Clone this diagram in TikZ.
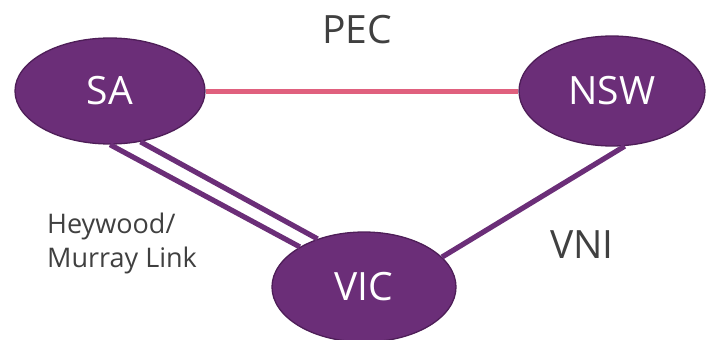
\documentclass[tikz,border=0pt]{standalone}
\usepackage{fontspec}
\setmainfont{Open Sans}
\usetikzlibrary{shapes.geometric}
\definecolor{regfill}{RGB}{107,46,120}
\definecolor{regline}{RGB}{78,30,88}
\definecolor{pecline}{RGB}{224,96,126}
\definecolor{txtgray}{RGB}{64,64,64}
\tikzset{
  region/.style={ellipse, fill=regfill, draw=regline, line width=1.3pt, inner sep=0pt,
    text=white, font=\fontsize{39}{39}\selectfont},
  link/.style={draw=regfill, line width=5.2pt},
  peclink/.style={draw=pecline, line width=5pt},
  biglabel/.style={text=txtgray, font=\fontsize{39}{39}\selectfont, inner sep=0pt},
  smalllabel/.style={text=txtgray, font=\fontsize{27}{34}\selectfont, inner sep=0pt, align=left}
}
\begin{document}
\begin{tikzpicture}[x=1pt,y=-1pt]
\useasboundingbox (0,0) rectangle (718,340);
\node[region, minimum width=190pt, minimum height=106pt] (SA) at (110,91) {SA};
\node[region, minimum width=186pt, minimum height=110pt] (NSW) at (612,91) {NSW};
\node[region, minimum width=184pt, minimum height=110pt] (VIC) at (364,287) {VIC};
\draw[peclink] (SA.east) -- (NSW.west);
\draw[link] (SA.-90) -- (VIC.148);
\draw[link] (SA.-59) -- (VIC.134);
\draw[link] (VIC.21) -- (NSW.-77);
\node[biglabel, anchor=base] (pec) at (357,43) {PEC};
\node[biglabel, anchor=base] (vni) at (582,258) {VNI};
\node[smalllabel, anchor=base west] (hey) at (47,267) {Heywood/\\Murray Link};
\end{tikzpicture}
\end{document}
